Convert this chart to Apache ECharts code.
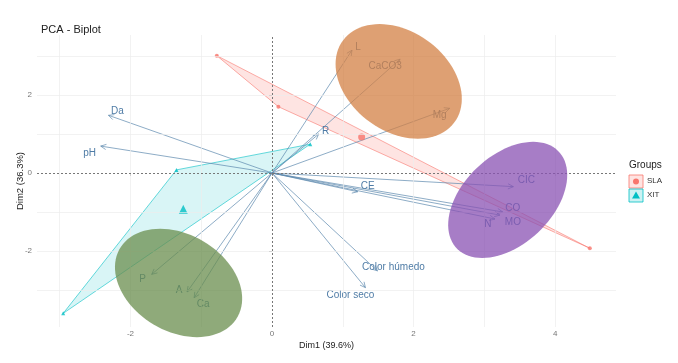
<!DOCTYPE html>
<html>
<head>
<meta charset="utf-8">
<script src="https://cdn.jsdelivr.net/npm/echarts@6/dist/echarts.min.js"></script>
<style>
  html, body { margin: 0; padding: 0; background: #fff; }
  #chart { width: 678px; height: 363px; }
</style>
</head>
<body>
<div id="chart"></div>
<script>
// variables (arrow tips on Dim1 / Dim2)
var varNames = ['L', 'CaCO3', 'Mg', 'R', 'Da', 'pH', 'CIC', 'CE', 'CO', 'MO', 'N', 'Color húmedo', 'Color seco', 'P', 'A', 'Ca'];
var varDim1 = [1.13, 1.81, 2.51, 0.66, -2.31, -2.42, 3.41, 1.21, 3.26, 3.22, 3.15, 1.49, 1.32, -1.70, -1.20, -1.10];
var varDim2 = [3.15, 2.92, 1.66, 1.00, 1.48, 0.69, -0.35, -0.48, -1.00, -1.08, -1.18, -2.51, -2.94, -2.60, -3.05, -3.20];

// individuals per group
var slaDim1 = [-0.78, 0.09, 4.49];
var slaDim2 = [3.01, 1.70, -1.93];
var xitDim1 = [-1.35, 0.54, -2.95];
var xitDim2 = [0.08, 0.74, -3.60];

// ellipses: centre + two conjugate semi-axes (data units)
var ellCx = [1.79, 3.33, -1.32];
var ellCy = [2.35, -0.69, -2.82];
var ellUx = [-0.27, 0.36, -0.26];
var ellUy = [1.47, 1.49, 1.39];
var ellVx = [0.85, 0.76, 0.86];

var ticksX = [-2, 0, 2, 4];
var ticksY = [-2, 0, 2];
var gridX = [-3, -2, -1, 1, 2, 3, 4];
var gridY = [-3, -2, -1, 1, 2, 3];

// label nudges in px (style, not data)
var labelOff = [[6, -3], [-15, 7], [-10, 7], [7, -3], [9, -4], [-11, 7], [13, -6], [10, -5],
  [10, -4], [13, 7], [-7, 5], [16, -4], [-15, 8], [-9, 5], [-8, -2], [9, 6]];
var ellColors = ['#D38044', '#8A52B3', '#6A8E4E'];

var SLA = '#F8766D', XIT = '#00BFC4';
var FONT = 'Liberation Sans';

function mean(a) { return a.reduce(function (s, v) { return s + v; }, 0) / a.length; }
function pairs(xs, ys) { return xs.map(function (x, i) { return [x, ys[i]]; }); }

var chart = echarts.init(document.getElementById('chart'));

function hull(xs, ys, color, fill) {
  return {
    type: 'custom', z: 2, silent: true,
    data: [[0, 0]],
    renderItem: function (params, api) {
      var pts = xs.map(function (x, i) { return api.coord([x, ys[i]]); });
      return { type: 'polygon', shape: { points: pts }, style: { fill: fill, stroke: color, lineWidth: 0.6 } };
    }
  };
}

var option = {
  animation: false,
  title: {
    text: 'PCA - Biplot', left: 36, top: 19,
    textStyle: { fontSize: 11, fontWeight: 'normal', color: '#222', fontFamily: FONT }
  },
  grid: { left: 37, right: 62, top: 35, bottom: 36, containLabel: false, outerBoundsMode: 'none' },
  xAxis: {
    type: 'value', min: -3.32, max: 4.86,
    name: 'Dim1 (39.6%)', nameLocation: 'middle', nameGap: 14, nameMoveOverlap: false,
    nameTextStyle: { fontSize: 9, color: '#222', fontFamily: FONT },
    axisLine: { show: false },
    splitLine: { show: false },
    axisTick: { show: true, customValues: ticksX, length: 3, lineStyle: { color: '#999' } },
    axisLabel: { customValues: ticksX, fontSize: 8, color: '#777', margin: 3, fontFamily: FONT }
  },
  yAxis: {
    type: 'value', min: -3.95, max: 3.54,
    name: 'Dim2 (36.3%)', nameLocation: 'middle', nameGap: 12, nameRotate: 90, nameMoveOverlap: false,
    nameTextStyle: { fontSize: 9.5, color: '#222', fontFamily: FONT },
    axisLine: { show: false },
    splitLine: { show: false },
    axisTick: { show: true, customValues: ticksY, length: 3, lineStyle: { color: '#999' } },
    axisLabel: { customValues: ticksY, fontSize: 8, color: '#777', margin: 5, fontFamily: FONT }
  },
  series: [
    {
      type: 'line', z: 0, silent: true, data: [[0, 0]], symbol: 'none', lineStyle: { opacity: 0 },
      markLine: {
        silent: true, symbol: ['none', 'none'], label: { show: false }, animation: false,
        lineStyle: { color: '#ECECEC', width: 0.7, type: 'solid' },
        data: gridX.map(function (v) { return { xAxis: v }; }).concat(gridY.map(function (v) { return { yAxis: v }; }))
      }
    },
    {
      type: 'line', z: 1, silent: true, data: [[0, 0]], symbol: 'none', lineStyle: { opacity: 0 },
      markLine: {
        silent: true, symbol: ['none', 'none'], label: { show: false }, animation: false,
        lineStyle: { color: '#777', width: 1, type: [2, 2] },
        data: [{ xAxis: 0 }, { yAxis: 0 }]
      }
    },
    hull(slaDim1, slaDim2, SLA, 'rgba(248,118,109,0.2)'),
    hull(xitDim1, xitDim2, XIT, 'rgba(0,191,196,0.15)'),
    {
      type: 'custom', z: 3, silent: true,
      data: pairs(varDim1, varDim2),
      renderItem: function (params, api) {
        var i = params.dataIndex;
        var o = api.coord([0, 0]);
        var t = api.coord([api.value(0), api.value(1)]);
        var ang = Math.atan2(t[1] - o[1], t[0] - o[0]);
        var h = 6, w = 0.45;
        var p1 = [t[0] - h * Math.cos(ang - w), t[1] - h * Math.sin(ang - w)];
        var p2 = [t[0] - h * Math.cos(ang + w), t[1] - h * Math.sin(ang + w)];
        var off = labelOff[i];
        return {
          type: 'group',
          children: [
            { type: 'line', shape: { x1: o[0], y1: o[1], x2: t[0], y2: t[1] }, style: { stroke: '#5C88AE', lineWidth: 0.7 } },
            { type: 'polyline', shape: { points: [p1, t, p2] }, style: { stroke: '#5C88AE', fill: null, lineWidth: 0.7 } },
            {
              type: 'text', x: t[0] + off[0], y: t[1] + off[1],
              style: {
                text: varNames[i], fill: '#4F7CA6', fontSize: 10, fontFamily: FONT,
                align: 'center', verticalAlign: 'middle', textAlign: 'center', textVerticalAlign: 'middle'
              }
            }
          ]
        };
      }
    },
    {
      type: 'scatter', z: 4, silent: true, symbol: 'circle', symbolSize: 4,
      itemStyle: { color: SLA }, data: pairs(slaDim1, slaDim2)
    },
    {
      type: 'scatter', z: 4, silent: true, symbol: 'circle', symbolSize: 7,
      itemStyle: { color: SLA }, data: [[mean(slaDim1), mean(slaDim2)]]
    },
    {
      type: 'scatter', z: 4, silent: true, symbol: 'triangle', symbolSize: 4,
      itemStyle: { color: XIT }, data: pairs(xitDim1, xitDim2)
    },
    {
      type: 'scatter', z: 4, silent: true, symbol: 'triangle', symbolSize: 9,
      itemStyle: { color: XIT }, data: [[mean(xitDim1), mean(xitDim2)]]
    },
    {
      type: 'custom', z: 5, silent: true,
      data: ellCx.map(function (c, i) { return [c, ellCy[i]]; }),
      renderItem: function (params, api) {
        var i = params.dataIndex;
        var pts = [];
        for (var k = 0; k < 90; k++) {
          var a = k / 90 * Math.PI * 2;
          pts.push(api.coord([
            ellCx[i] + ellUx[i] * Math.cos(a) + ellVx[i] * Math.sin(a),
            ellCy[i] + ellUy[i] * Math.cos(a)
          ]));
        }
        return { type: 'polygon', shape: { points: pts }, style: { fill: ellColors[i], opacity: 0.75 } };
      }
    }
  ],
  graphic: [
    { type: 'text', x: 629, y: 160, style: { text: 'Groups', fontSize: 10, fill: '#222', fontFamily: FONT } },
    { type: 'rect', shape: { x: 629, y: 175, width: 14, height: 13 }, style: { fill: 'rgba(248,118,109,0.2)', stroke: SLA, lineWidth: 0.8 } },
    { type: 'circle', shape: { cx: 636, cy: 181.5, r: 3 }, style: { fill: SLA } },
    { type: 'text', x: 647, y: 177, style: { text: 'SLA', fontSize: 8, fill: '#333', fontFamily: FONT } },
    { type: 'rect', shape: { x: 629, y: 189, width: 14, height: 13 }, style: { fill: 'rgba(0,191,196,0.2)', stroke: XIT, lineWidth: 0.8 } },
    { type: 'polygon', shape: { points: [[636, 191.5], [640, 198.5], [632, 198.5]] }, style: { fill: XIT } },
    { type: 'text', x: 647, y: 191, style: { text: 'XIT', fontSize: 8, fill: '#333', fontFamily: FONT } }
  ]
};

chart.setOption(option);
</script>
</body>
</html>
